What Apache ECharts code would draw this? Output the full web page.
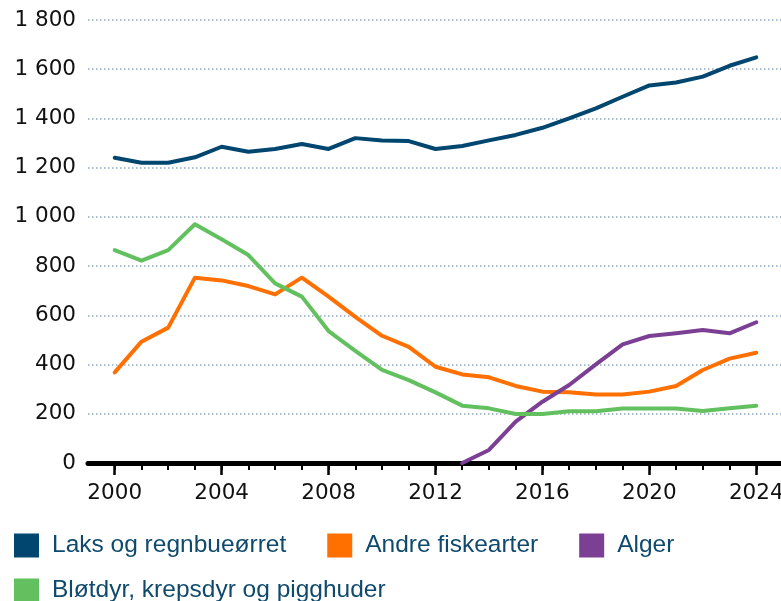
<!DOCTYPE html>
<html>
<head>
<meta charset="utf-8">
<script src="https://cdn.jsdelivr.net/npm/echarts@6/dist/echarts.min.js"></script>
<style>
  html, body { margin: 0; padding: 0; background: #fff; }
  #chart { width: 781px; height: 601px; }
</style>
</head>
<body>
<div id="chart"></div>
<script>
// years on the x axis
const years = [2000, 2001, 2002, 2003, 2004, 2005, 2006, 2007, 2008, 2009, 2010, 2011, 2012,
  2013, 2014, 2015, 2016, 2017, 2018, 2019, 2020, 2021, 2022, 2023, 2024]
const yearLabels = [2000, 2004, 2008, 2012, 2016, 2020, 2024]

// series values
const laks = [1240, 1220, 1220, 1242, 1285, 1265, 1276, 1296, 1276, 1320, 1310, 1308, 1276,
  1288, 1311, 1333, 1362, 1400, 1441, 1488, 1534, 1546, 1570, 1614, 1648]
const andre = [368, 493, 550, 753, 742, 719, 685, 753, 676, 594, 517, 472, 391,
  360, 348, 313, 290, 287, 278, 278, 290, 313, 378, 424, 448]
const alger = [null, null, null, null, null, null, null, null, null, null, null, null, null,
  0, 53, 168, 249, 317, 401, 482, 516, 527, 540, 527, 572]
const blotdyr = [865, 822, 865, 970, 909, 845, 730, 676, 536, 456, 378, 337, 287,
  233, 222, 199, 199, 210, 210, 221, 221, 221, 211, 222, 233]

const seriesNames = ['Laks og regnbueørret', 'Andre fiskearter', 'Alger', 'Bløtdyr, krepsdyr og pigghuder']
const seriesColors = ['#00466f', '#ff7000', '#7b3f94', '#62c15e']
const seriesData = [laks, andre, alger, blotdyr]

const chart = echarts.init(document.getElementById('chart'))

const legendText = {
  fontFamily: 'Liberation Sans',
  fontSize: 24.5,
  color: '#0f4a6d',
  padding: [0, 0, 0, 8]
}

chart.setOption({
  animation: false,
  color: seriesColors,
  grid: {
    left: 88,
    top: 20,
    width: 695,
    bottom: 138,
    outerBoundsMode: 'none'
  },
  legend: [
    {
      data: seriesNames.slice(0, 3),
      left: 14,
      top: 533,
      padding: 0,
      icon: 'rect',
      itemWidth: 25,
      itemHeight: 24,
      itemGap: 41,
      textStyle: legendText
    },
    {
      data: seriesNames.slice(3),
      left: 14,
      top: 578,
      padding: 0,
      icon: 'rect',
      itemWidth: 25,
      itemHeight: 24,
      textStyle: legendText
    }
  ],
  xAxis: [
    {
      type: 'value',
      min: 1999,
      max: 2025,
      axisLine: { lineStyle: { color: '#000', width: 5 } },
      axisTick: {
        customValues: yearLabels,
        length: 12,
        lineStyle: { color: '#000', width: 2.5 }
      },
      axisLabel: {
        customValues: yearLabels,
        margin: 19,
        fontFamily: 'DejaVu Sans',
        fontSize: 21.5,
        color: '#111',
        formatter: v => String(v)
      },
      splitLine: { show: false }
    },
    {
      type: 'value',
      position: 'bottom',
      min: 1999,
      max: 2025,
      axisLine: { show: false },
      axisTick: {
        customValues: years,
        length: 7,
        lineStyle: { color: '#000', width: 2 }
      },
      axisLabel: { show: false },
      splitLine: { show: false }
    }
  ],
  yAxis: {
    type: 'value',
    min: 0,
    max: 1800,
    interval: 200,
    axisLine: { show: false },
    axisTick: { show: false },
    axisLabel: {
      margin: 12,
      fontFamily: 'DejaVu Sans',
      fontSize: 21.5,
      color: '#111',
      formatter: v => String(v).replace(/\B(?=(\d{3})+(?!\d))/g, ' ')
    },
    splitLine: {
      lineStyle: { color: '#8fa9c0', width: 1.5, type: [1.5, 2.5] }
    }
  },
  series: seriesNames.map((name, i) => ({
    name: name,
    type: 'line',
    showSymbol: false,
    symbol: 'none',
    connectNulls: false,
    lineStyle: { width: 4, cap: 'round', join: 'round' },
    data: years.map((y, j) => [y, seriesData[i][j]])
  }))
})
</script>
</body>
</html>
